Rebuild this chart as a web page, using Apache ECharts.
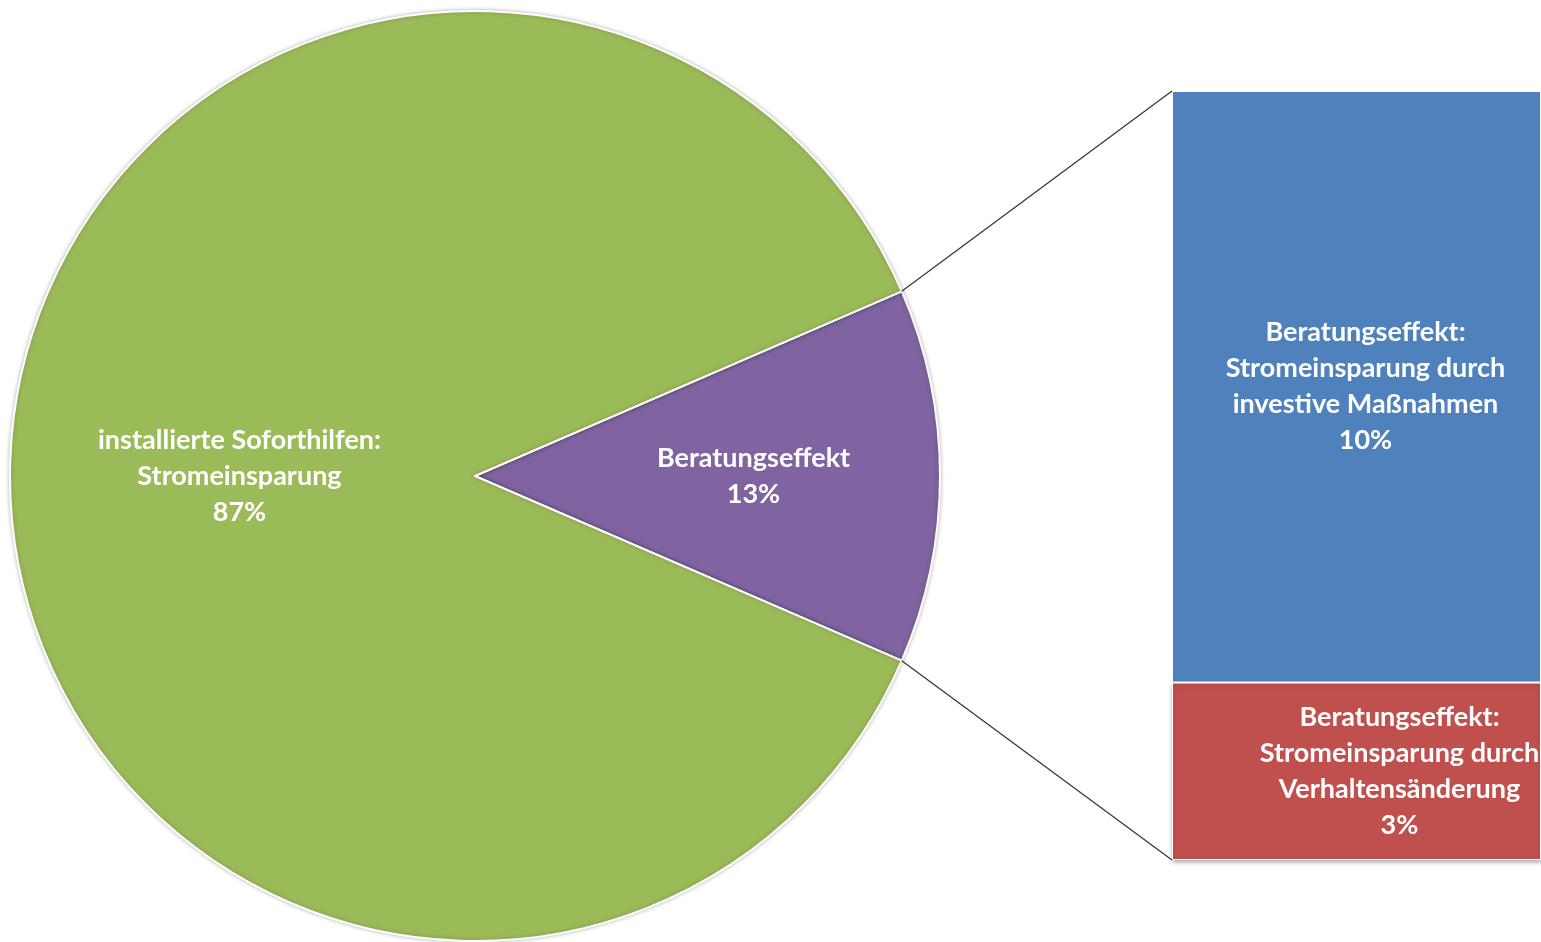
<!DOCTYPE html>
<html>
<head>
<meta charset="utf-8">
<script src="https://cdn.jsdelivr.net/npm/echarts@6/dist/echarts.min.js"></script>
<style>
html,body{margin:0;padding:0;background:#fff;}
#c{width:1541px;height:942px;}
</style>
</head>
<body>
<div id="c"></div>
<script>
// ---- data ----
const pieNames = ['Beratungseffekt', 'installierte Soforthilfen:\nStromeinsparung'];
const pieValues = [13, 87];
const barCategories = ['Beratungseffekt'];
const barNames = ['Beratungseffekt:\nStromeinsparung durch\ninvestive Maßnahmen', 'Beratungseffekt:\nStromeinsparung durch\nVerhaltensänderung'];
const barValues = [10, 3];

const FONT = 'Lato, "Open Sans", sans-serif';
const total = pieValues[0];
const startAngle = pieValues[0] / (pieValues[0] + pieValues[1]) * 360 / 2;

const labelStyle = {
  color: '#fff', fontFamily: FONT, fontWeight: 'bold', fontSize: 27, lineHeight: 36
};

const chart = echarts.init(document.getElementById('c'), null, {renderer: 'canvas'});
const option = {
  animation: false,
  backgroundColor: '#fff',
  grid: {left: 1172, top: 91, right: 0, bottom: 82},
  xAxis: {type: 'category', data: barCategories, show: false},
  yAxis: {type: 'value', min: 0, max: total, show: false},
  series: [
    {
      type: 'pie',
      center: [475, 476],
      radius: 465,
      startAngle: startAngle,
      clockwise: true,
      silent: true,
      itemStyle: {borderColor: '#fff', borderWidth: 2, shadowColor: 'rgba(0,0,0,0.25)', shadowBlur: 4},
      label: Object.assign({position: 'inside', formatter: '{b}\n{c}%'}, labelStyle),
      labelLine: {show: false},
      data: [
        {name: pieNames[0], value: pieValues[0], itemStyle: {color: '#8064A2'}, label: {padding: [0, 0, 0, 86]}},
        {name: pieNames[1], value: pieValues[1], itemStyle: {color: '#9BBB59'}, label: {padding: [0, 0, 0, 0]}}
      ]
    },
    {
      type: 'bar', stack: 's', barWidth: '100%', name: barNames[1],
      itemStyle: {color: '#C0504D', borderColor: '#fff', borderWidth: 1, shadowColor: 'rgba(0,0,0,0.3)', shadowBlur: 4, shadowOffsetY: 2},
      label: Object.assign({show: true, position: 'inside', offset: [43, 0], formatter: barNames[1] + '\n{c}%'}, labelStyle),
      data: [barValues[1]]
    },
    {
      type: 'bar', stack: 's', barWidth: '100%', name: barNames[0],
      itemStyle: {color: '#4F81BD', borderColor: '#fff', borderWidth: 1},
      label: Object.assign({show: true, position: 'inside', offset: [9, 0], formatter: barNames[0] + '\n{c}%'}, labelStyle),
      data: [barValues[0]]
    }
  ]
};
chart.setOption(option);

// connector lines from the pie slice edges to the bar corners
let cx = 475, cy = 476, r = 465;
try {
  const lay = chart.getModel().getSeriesByIndex(0).getData().getItemLayout(0);
  if (lay && lay.r) { cx = lay.cx; cy = lay.cy; r = lay.r; }
} catch (e) {}
const a = startAngle * Math.PI / 180;
const p1 = [cx + r * Math.cos(a), cy - r * Math.sin(a)];
const p2 = [cx + r * Math.cos(a), cy + r * Math.sin(a)];
const topPt = chart.convertToPixel({gridIndex: 0}, [0, total]);
const botPt = chart.convertToPixel({gridIndex: 0}, [0, 0]);
const barLeft = option.grid.left;
chart.setOption({
  graphic: [
    {type: 'line', shape: {x1: p1[0], y1: p1[1], x2: barLeft, y2: topPt[1]}, style: {stroke: '#333', lineWidth: 1.2}, z: 10},
    {type: 'line', shape: {x1: p2[0], y1: p2[1], x2: barLeft, y2: botPt[1]}, style: {stroke: '#333', lineWidth: 1.2}, z: 10}
  ]
});
</script>
</body>
</html>
